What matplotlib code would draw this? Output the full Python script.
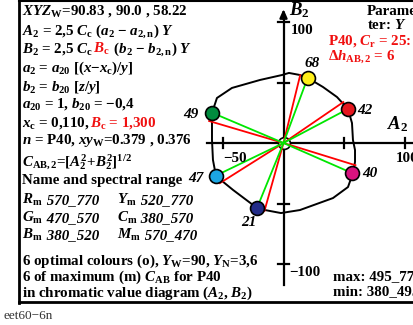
import numpy as np
import matplotlib
matplotlib.use("Agg")
import matplotlib.pyplot as plt
from matplotlib.lines import Line2D

plt.rcParams['mathtext.fontset'] = 'custom'
plt.rcParams['mathtext.rm'] = 'Liberation Serif:bold'
plt.rcParams['mathtext.bf'] = 'Liberation Serif:bold'
plt.rcParams['mathtext.it'] = 'Liberation Serif:italic:bold'

# ---- data ----
point_labels = ['68', '42', '40', '21', '47', '49']
point_A = [20, 53, 57, -22, -56, -59]
point_B = [54, 28, -25, -54, -27, 25]
point_colors = ['#FFEF1A', '#E5171F', '#D8137F', '#222C88', '#1CA6E2', '#008B3E']
red_rotation_deg = 6.5

boundary_A = [-59.1, -55.0, -42.6, -19.4, -1.2, 4.5, 13.6, 20.2, 32.6, 44.2, 53.3, 56.6,
              57.4, 59.1, 59.1, 57.4, 53.3, 40.9, 13.6, -2.1, -15.3, -21.9, -41.7, -55.8,
              -58.3, -59.1, -59.1, -59.1]
boundary_B = [24.8, 37.2, 45.5, 52.1, 56.2, 57.9, 56.2, 53.7, 46.3, 38.0, 28.1, 16.5,
              2.5, -5.8, -15.7, -24.8, -36.4, -45.5, -55.4, -57.9, -55.4, -53.7, -38.8, -27.3,
              -14.0, 2.5, 14.9, 24.8]

A_ticks = [-50, 50, 100]
B_ticks = [-100, -50, 50, 100]

W, H = 413, 325
fig = plt.figure(figsize=(W / 100, H / 100), dpi=100)
ax = fig.add_axes([0, 0, 1, 1])
ox, oy, s = 283.5, 143.0, 1.21
ax.set_xlim(-ox / s, (W - ox) / s)
ax.set_ylim((oy - H) / s, oy / s)
ax.axis('off')

# axes lines
ax.plot([-63, 120], [0, 0], color='k', lw=1.6, zorder=2, clip_on=False)
ax.plot([0, 0], [-117, 106], color='k', lw=1.6, zorder=2)
ax.annotate('', xy=(0, 113), xytext=(0, 100),
            arrowprops=dict(arrowstyle='-|>,head_length=0.5,head_width=0.22', color='k', lw=1.6))
tl = 4.5
for t in A_ticks:
    ax.plot([t, t], [-tl, tl], color='k', lw=1.6, zorder=2)
for t in B_ticks:
    ax.plot([-tl, tl], [t, t], color='k', lw=1.6, zorder=2)

# boundary curve
ax.plot(boundary_A, boundary_B, color='k', lw=1.4, zorder=3)

# origin circle
ax.plot([0], [0], 'o', ms=8.5, mfc='white', mec='k', mew=1.2, zorder=3)

# lines
rot = np.deg2rad(red_rotation_deg)
for a, b in zip(point_A, point_B):
    ra = a * np.cos(rot) - b * np.sin(rot)
    rb = a * np.sin(rot) + b * np.cos(rot)
    ax.plot([0, ra], [0, rb], color='#FF0000', lw=1.3, zorder=4)
for a, b in zip(point_A, point_B):
    ax.plot([0, a], [0, b], color='#00E600', lw=1.3, zorder=5)

# points
for a, b, c in zip(point_A, point_B, point_colors):
    ax.plot([a], [b], 'o', ms=10, mfc=c, mec='k', mew=1.2, zorder=6)

renderer = fig.canvas.get_renderer()
FS = 10.8


def ptext(x, y, pieces, size=FS, **kw):
    cur = x
    for p in pieces:
        txt, col = p[0], p[1]
        style = p[2] if len(p) > 2 else 'normal'
        t = fig.text(cur / W, 1 - y / H, txt, color=col, fontsize=size,
                     fontfamily='Liberation Serif', fontweight='bold', style=style,
                     va='baseline', ha='left', **kw)
        cur += t.get_window_extent(renderer).width


K = 'black'
R = '#F01010'

# point labels
lab_pos = {'68': (312, 67), '42': (365, 114), '40': (370, 177), '21': (249, 226),
           '47': (196, 182), '49': (191, 118)}
for lab in point_labels:
    x, y = lab_pos[lab]
    fig.text(x / W, 1 - y / H, lab, fontsize=11, fontfamily='Liberation Serif',
             fontweight='bold', style='italic', ha='center', va='baseline')

# axis labels & tick labels
ptext(289, 15, [(r'$B_2$', K)], size=13.5)
ptext(387, 129, [(r'$A_2$', K)], size=13.5)
ptext(291, 34, [('100', K)])
ptext(223, 162, [('\u221250', K)])
ptext(396, 162, [('100', K)])
ptext(289, 276, [('\u2212100', K)])

# left text block
x0 = 22
lines = [
    (15, [(r'$XYZ_\mathrm{W}$=90.83 , 90.0 , 58.22', K)]),
    (35, [(r'$A_2$ = 2,5 $C_\mathrm{c}$ ($a_2$ $-$ $a_\mathrm{2,n}$) $Y$', K)]),
    (53, [(r'$B_2$ = 2,5 $C_\mathrm{c}$ ', K), (r'$B_\mathrm{c}$', R),
          (r' ($b_2$ $-$ $b_\mathrm{2,n}$) $Y$', K)]),
    (72, [(r'$a_2$ = $a_{20}$ [($x$$-$$x_\mathrm{c}$)/$y$]', K)]),
    (91, [(r'$b_2$ = $b_{20}$ [$z$/$y$]', K)]),
    (108, [(r'$a_{20}$ = 1, $b_{20}$ = $-$0,4', K)]),
    (127, [(r'$x_\mathrm{c}$ = 0,110, ', K), (r'$B_\mathrm{c}$ = 1,300', R)]),
    (144, [(r'$n$ = P40, $xy_\mathrm{W}$=0.379 , 0.376', K)]),
    (166, [(r'$C_\mathrm{AB,2}$=[$A_2^2$+$B_2^2$]$^{1/2}$', K)]),
    (184, [('Name and spectral range', K)]),
    (204, [(r'$R_\mathrm{m}$', K), (' 570_770', K, 'italic')]),
    (222, [(r'$G_\mathrm{m}$', K), (' 470_570', K, 'italic')]),
    (239, [(r'$B_\mathrm{m}$', K), (' 380_520', K, 'italic')]),
    (265, [(r'6 optimal colours (o), $Y_\mathrm{W}$=90, $Y_\mathrm{N}$=3,6', K)]),
    (281, [(r'6 of maximum (m) $C_\mathrm{AB}$ for P40', K)]),
    (297, [(r'in chromatic value diagram ($A_2$, $B_2$)', K)]),
]
for y, pieces in lines:
    ptext(x0, y, pieces)
x1 = 117
ptext(x1, 204, [(r'$Y_\mathrm{m}$', K), (' 520_770', K, 'italic')])
ptext(x1, 222, [(r'$C_\mathrm{m}$', K), (' 380_570', K, 'italic')])
ptext(x1, 239, [(r'$M_\mathrm{m}$', K), (' 570_470', K, 'italic')])

# right text
ptext(367, 15, [('Parame-', K)])
ptext(367, 29, [(r'ter: $Y$', K)])
ptext(328, 45, [(r'P40, $C_\mathrm{r}$ = 25:', R)])
ptext(328, 60, [(r'$\Delta h_\mathrm{AB,2}$ = 6', R)])
ptext(333, 280, [('max: 495_770', K)])
ptext(333, 295, [('min: 380_495', K)])

# frame
fig.add_artist(Line2D([19 / W, 19 / W], [1, 1 - 302.5 / H], color='k', lw=2.0, transform=fig.transFigure))
fig.add_artist(Line2D([19 / W, 1], [1 - 0.8 / H, 1 - 0.8 / H], color='k', lw=1.5, transform=fig.transFigure))
fig.add_artist(Line2D([19 / W, 1], [1 - 302 / H, 1 - 302 / H], color='k', lw=2.0, transform=fig.transFigure))

fig.text(3 / W, 1 - 319 / H, 'eet60\u22126n', fontsize=9.5, fontfamily='Liberation Serif',
         color='#333333', va='baseline', ha='left')

fig.savefig('out.png', dpi=100)
